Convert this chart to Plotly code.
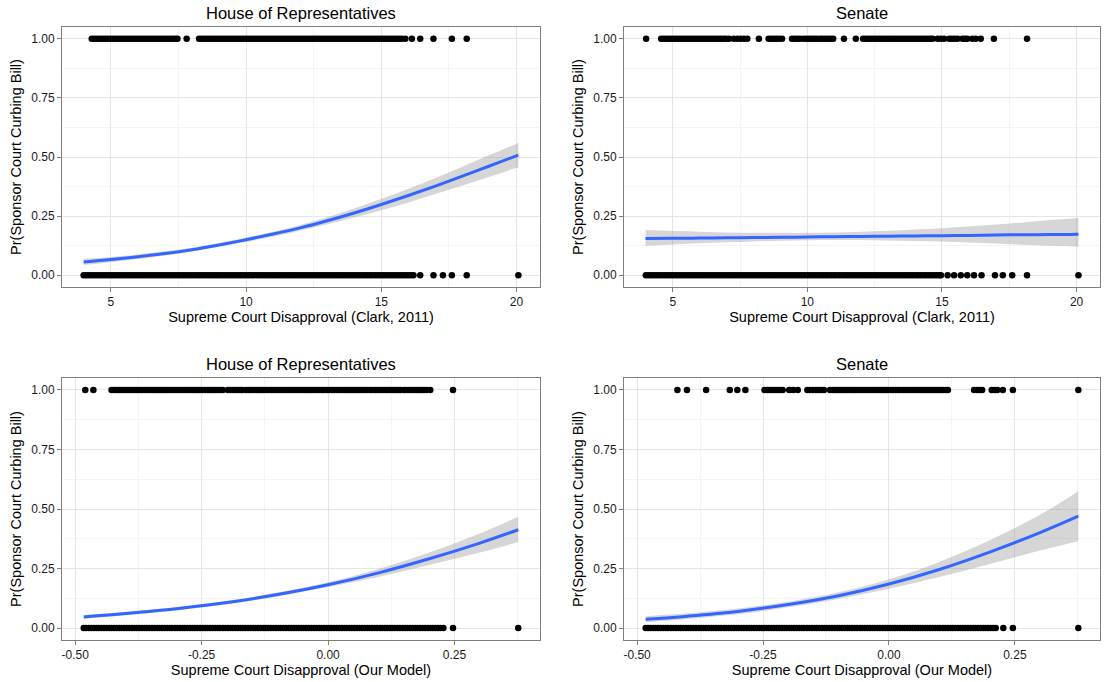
import plotly.graph_objects as go

# ---------------- data ----------------
PANEL_TITLES = ["House of Representatives", "Senate", "House of Representatives", "Senate"]
X_TITLES = ["Supreme Court Disapproval (Clark, 2011)", "Supreme Court Disapproval (Clark, 2011)",
            "Supreme Court Disapproval (Our Model)", "Supreme Court Disapproval (Our Model)"]
Y_TITLE = "Pr(Sponsor Court Curbing Bill)"

Y_TICKS = [0.0, 0.25, 0.5, 0.75, 1.0]
Y_TICK_LABELS = ["0.00", "0.25", "0.50", "0.75", "1.00"]
CLARK_TICKS = [5, 10, 15, 20]
CLARK_TICK_LABELS = ["5", "10", "15", "20"]
MODEL_TICKS = [-0.5, -0.25, 0.0, 0.25]
MODEL_TICK_LABELS = ["-0.50", "-0.25", "0.00", "0.25"]

# observed sponsors (y = 1) and non-sponsors (y = 0)
HOUSE_CLARK_YES = [
    4.29, 4.39, 4.49, 4.59, 4.69, 4.79, 4.89, 4.99, 5.09, 5.19, 5.29, 5.39, 5.49, 5.59, 5.69, 5.79,
    5.89, 5.99, 6.09, 6.19, 6.29, 6.39, 6.49, 6.59, 6.69, 6.79, 6.89, 6.99, 7.09, 7.19, 7.29, 7.39,
    7.46, 7.80,
    8.26, 8.36, 8.46, 8.56, 8.66, 8.76, 8.86, 8.96, 9.06, 9.16, 9.26, 9.36, 9.46, 9.56, 9.66, 9.76,
    9.86, 9.96, 10.06, 10.16, 10.26, 10.36, 10.46, 10.56, 10.66, 10.76, 10.86, 10.96, 11.06, 11.16,
    11.26, 11.36, 11.46, 11.56, 11.66, 11.76, 11.86, 11.96, 12.06, 12.16, 12.26, 12.36, 12.46, 12.56,
    12.66, 12.76, 12.86, 12.96, 13.06, 13.16, 13.26, 13.36, 13.46, 13.56, 13.66, 13.76, 13.86, 13.96,
    14.06, 14.16, 14.26, 14.36, 14.46, 14.56, 14.66, 14.76, 14.86, 14.96, 15.06, 15.16, 15.26, 15.36,
    15.46, 15.56, 15.66, 15.76, 15.89, 16.13, 16.44, 16.93, 17.61, 18.16]
HOUSE_CLARK_NO = [
    3.99, 4.09, 4.19, 4.29, 4.39, 4.49, 4.59, 4.69, 4.79, 4.89, 4.99, 5.09, 5.19, 5.29, 5.39, 5.49,
    5.59, 5.69, 5.79, 5.89, 5.99, 6.09, 6.19, 6.29, 6.39, 6.49, 6.59, 6.69, 6.79, 6.89, 6.99, 7.09,
    7.19, 7.29, 7.39, 7.49, 7.59, 7.69, 7.79, 7.89, 7.99, 8.09, 8.19, 8.29, 8.39, 8.49, 8.59, 8.69,
    8.79, 8.89, 8.99, 9.09, 9.19, 9.29, 9.39, 9.49, 9.59, 9.69, 9.79, 9.89, 9.99, 10.09, 10.19, 10.29,
    10.39, 10.49, 10.59, 10.69, 10.79, 10.89, 10.99, 11.09, 11.19, 11.29, 11.39, 11.49, 11.59, 11.69,
    11.79, 11.89, 11.99, 12.09, 12.19, 12.29, 12.39, 12.49, 12.59, 12.69, 12.79, 12.89, 12.99, 13.09,
    13.19, 13.29, 13.39, 13.49, 13.59, 13.69, 13.79, 13.89, 13.99, 14.09, 14.19, 14.29, 14.39, 14.49,
    14.59, 14.69, 14.79, 14.89, 14.99, 15.09, 15.19, 15.29, 15.39, 15.49, 15.59, 15.69, 15.79, 15.89,
    15.99, 16.09, 16.19, 16.44, 16.93, 17.28, 17.61, 18.16, 20.07]
SENATE_CLARK_YES = [
    4.01,
    4.57, 4.67, 4.77, 4.87, 4.97, 5.07, 5.17, 5.27, 5.37, 5.47, 5.57, 5.67, 5.77, 5.87, 5.97, 6.07,
    6.17, 6.27, 6.37, 6.47, 6.57, 6.67, 6.77, 6.87, 6.97, 7.09,
    7.27, 7.40, 7.52, 7.64, 7.77, 8.20,
    8.56, 8.66, 8.76, 8.86, 8.96, 9.06, 9.43, 9.53, 9.63, 9.73,
    9.86, 9.96, 10.06, 10.16, 10.26, 10.35, 10.47, 10.57, 10.67, 10.77, 10.87, 10.96, 11.36, 11.80,
    12.07, 12.17, 12.27, 12.37, 12.47, 12.57, 12.67, 12.77, 12.87, 12.97, 13.07, 13.17, 13.27, 13.37,
    13.47, 13.57, 13.67, 13.77, 13.87, 13.97, 14.07, 14.17, 14.27, 14.37, 14.47, 14.57, 14.65,
    14.84, 14.96, 15.08, 15.27, 15.37, 15.47, 15.58, 15.76, 15.85, 15.94, 16.13, 16.25,
    16.44, 16.93, 18.16]
SENATE_CLARK_NO = [
    4.00, 4.10, 4.20, 4.30, 4.40, 4.50, 4.60, 4.70, 4.80, 4.90, 5.00, 5.10, 5.20, 5.30, 5.40, 5.50,
    5.60, 5.70, 5.80, 5.90, 6.00, 6.10, 6.20, 6.30, 6.40, 6.50, 6.60, 6.70, 6.80, 6.90, 7.00, 7.10,
    7.20, 7.30, 7.40, 7.50, 7.60, 7.70, 7.80, 7.90, 8.00, 8.10, 8.20, 8.30, 8.40, 8.50, 8.60, 8.70,
    8.80, 8.90, 9.00, 9.10, 9.20, 9.30, 9.40, 9.50, 9.60, 9.70, 9.80, 9.90, 10.00, 10.10, 10.20, 10.30,
    10.40, 10.50, 10.60, 10.70, 10.80, 10.90, 11.00, 11.10, 11.20, 11.30, 11.40, 11.50, 11.60, 11.70,
    11.80, 11.90, 12.00, 12.10, 12.20, 12.30, 12.40, 12.50, 12.60, 12.70, 12.80, 12.90, 13.00, 13.10,
    13.20, 13.30, 13.40, 13.50, 13.60, 13.70, 13.80, 13.90, 14.00, 14.10, 14.20, 14.30, 14.40, 14.50,
    14.60, 14.70, 14.80, 14.90, 14.96, 15.21, 15.45, 15.70, 15.94, 16.19, 16.47, 16.97, 17.26, 17.61,
    18.16, 20.07]
HOUSE_MODEL_YES = [
    -0.480, -0.464,
    -0.428, -0.423, -0.418, -0.413, -0.408, -0.403, -0.398, -0.393, -0.388, -0.383, -0.378, -0.373,
    -0.368, -0.363, -0.358, -0.353, -0.348, -0.343, -0.338, -0.333, -0.328, -0.323, -0.318, -0.313,
    -0.308, -0.303, -0.298, -0.293, -0.288, -0.283, -0.278, -0.273, -0.268, -0.263, -0.258, -0.253,
    -0.248, -0.243, -0.238, -0.233, -0.228, -0.223, -0.218, -0.213, -0.208,
    -0.198, -0.193, -0.188, -0.183, -0.178, -0.173, -0.169,
    -0.162, -0.157, -0.152, -0.147, -0.142, -0.137, -0.132, -0.127, -0.122, -0.117, -0.112, -0.107,
    -0.102, -0.097, -0.092, -0.087, -0.082, -0.077, -0.072, -0.067, -0.062, -0.057, -0.052, -0.047,
    -0.042, -0.037, -0.032, -0.027, -0.022, -0.017, -0.012, -0.007, -0.002, 0.003, 0.008, 0.013,
    0.018, 0.023, 0.028, 0.033, 0.038, 0.043, 0.048, 0.053, 0.058, 0.063, 0.068, 0.073, 0.078, 0.083,
    0.088, 0.093, 0.098, 0.103, 0.108, 0.113, 0.118, 0.123, 0.128, 0.133, 0.138, 0.143,
    0.150, 0.155, 0.160, 0.165, 0.170, 0.175, 0.180, 0.185, 0.190, 0.195, 0.202, 0.247]
HOUSE_MODEL_NO = [
    -0.483, -0.478, -0.473, -0.468, -0.463, -0.458, -0.453, -0.448, -0.443, -0.438, -0.433, -0.428,
    -0.423, -0.418, -0.413, -0.408, -0.403, -0.398, -0.393, -0.388, -0.383, -0.378, -0.373, -0.368,
    -0.363, -0.358, -0.353, -0.348, -0.343, -0.338, -0.333, -0.328, -0.323, -0.318, -0.313, -0.308,
    -0.303, -0.298, -0.293, -0.288, -0.283, -0.278, -0.273, -0.268, -0.263, -0.258, -0.253, -0.248,
    -0.243, -0.238, -0.233, -0.228, -0.223, -0.218, -0.213, -0.208, -0.203, -0.198, -0.193, -0.188,
    -0.183, -0.178, -0.173, -0.168, -0.163, -0.158, -0.153, -0.148, -0.143, -0.138, -0.133, -0.128,
    -0.123, -0.118, -0.113, -0.108, -0.103, -0.098, -0.093, -0.088, -0.083, -0.078, -0.073, -0.068,
    -0.063, -0.058, -0.053, -0.048, -0.043, -0.038, -0.033, -0.028, -0.023, -0.018, -0.013, -0.008,
    -0.003, 0.002, 0.007, 0.012, 0.017, 0.022, 0.027, 0.032, 0.037, 0.042, 0.047, 0.052, 0.057, 0.062,
    0.067, 0.072, 0.077, 0.082, 0.087, 0.092, 0.097, 0.102, 0.107, 0.112, 0.117, 0.122, 0.127, 0.132,
    0.137, 0.142, 0.147, 0.152, 0.157, 0.162, 0.167, 0.172, 0.177, 0.182, 0.187, 0.192, 0.197, 0.202,
    0.207, 0.212, 0.217, 0.222, 0.228, 0.247, 0.376]
SENATE_MODEL_YES = [
    -0.420, -0.401, -0.363, -0.316, -0.301, -0.285,
    -0.247, -0.242, -0.237, -0.232, -0.227, -0.222, -0.217, -0.211,
    -0.198, -0.190, -0.181,
    -0.162, -0.157, -0.151, -0.145, -0.140, -0.135, -0.129,
    -0.117, -0.112, -0.107, -0.102, -0.097, -0.092, -0.087, -0.082, -0.077, -0.072, -0.067, -0.062,
    -0.057, -0.052, -0.047, -0.042, -0.037, -0.032, -0.027, -0.022, -0.017, -0.012, -0.007, -0.002,
    0.003, 0.008, 0.013, 0.018, 0.023, 0.028, 0.033, 0.038, 0.043, 0.048, 0.053, 0.058, 0.063, 0.068,
    0.073, 0.078, 0.083, 0.088, 0.093, 0.098, 0.103, 0.108, 0.113, 0.117,
    0.169, 0.175, 0.180, 0.185, 0.204, 0.210, 0.215, 0.226, 0.246, 0.376]
SENATE_MODEL_NO = [
    -0.483, -0.478, -0.473, -0.468, -0.463, -0.458, -0.453, -0.448, -0.443, -0.438, -0.433, -0.428,
    -0.423, -0.418, -0.413, -0.408, -0.403, -0.398, -0.393, -0.388, -0.383, -0.378, -0.373, -0.368,
    -0.363, -0.358, -0.353, -0.348, -0.343, -0.338, -0.333, -0.328, -0.323, -0.318, -0.313, -0.308,
    -0.303, -0.298, -0.293, -0.288, -0.283, -0.278, -0.273, -0.268, -0.263, -0.258, -0.253, -0.248,
    -0.243, -0.238, -0.233, -0.228, -0.223, -0.218, -0.213, -0.208, -0.203, -0.198, -0.193, -0.188,
    -0.183, -0.178, -0.173, -0.168, -0.163, -0.158, -0.153, -0.148, -0.143, -0.138, -0.133, -0.128,
    -0.123, -0.118, -0.113, -0.108, -0.103, -0.098, -0.093, -0.088, -0.083, -0.078, -0.073, -0.068,
    -0.063, -0.058, -0.053, -0.048, -0.043, -0.038, -0.033, -0.028, -0.023, -0.018, -0.013, -0.008,
    -0.003, 0.002, 0.007, 0.012, 0.017, 0.022, 0.027, 0.032, 0.037, 0.042, 0.047, 0.052, 0.057, 0.062,
    0.067, 0.072, 0.077, 0.082, 0.087, 0.092, 0.097, 0.102, 0.107, 0.112, 0.117, 0.122, 0.127, 0.132,
    0.137, 0.142, 0.147, 0.152, 0.157, 0.162, 0.167, 0.172, 0.177, 0.182, 0.187, 0.192, 0.197, 0.202,
    0.207, 0.212, 0.227, 0.246, 0.376]

# fitted logit curves and 95% bands
FIT_X_CLARK = [3.99, 5, 6, 7, 8, 9, 10, 11, 12, 13, 14, 15, 16, 17, 18, 19, 20, 20.07]
HOUSE_CLARK_FIT = [0.056, 0.066, 0.078, 0.092, 0.108, 0.128, 0.150, 0.174, 0.200, 0.230, 0.263, 0.299,
                   0.337, 0.377, 0.419, 0.462, 0.505, 0.508]
HOUSE_CLARK_LO = [0.043, 0.055, 0.068, 0.083, 0.100, 0.120, 0.141, 0.164, 0.188, 0.215, 0.244, 0.275,
                  0.308, 0.343, 0.379, 0.416, 0.454, 0.456]
HOUSE_CLARK_HI = [0.069, 0.077, 0.088, 0.101, 0.116, 0.136, 0.159, 0.184, 0.212, 0.245, 0.282, 0.323,
                  0.366, 0.411, 0.459, 0.508, 0.556, 0.560]
SENATE_CLARK_FIT = [0.155, 0.156, 0.157, 0.158, 0.159, 0.160, 0.162, 0.163, 0.164, 0.165, 0.166, 0.167,
                    0.168, 0.170, 0.171, 0.172, 0.173, 0.174]
SENATE_CLARK_LO = [0.124, 0.130, 0.135, 0.139, 0.143, 0.146, 0.148, 0.149, 0.149, 0.147, 0.145, 0.142,
                   0.138, 0.134, 0.129, 0.124, 0.120, 0.119]
SENATE_CLARK_HI = [0.191, 0.187, 0.184, 0.181, 0.180, 0.179, 0.179, 0.181, 0.184, 0.188, 0.193, 0.199,
                   0.206, 0.214, 0.223, 0.233, 0.242, 0.243]

FIT_X_MODEL = [-0.483, -0.4, -0.3, -0.2, -0.1, 0.0, 0.1, 0.2, 0.3, 0.376]
HOUSE_MODEL_FIT = [0.047, 0.061, 0.081, 0.107, 0.141, 0.182, 0.232, 0.291, 0.357, 0.413]
HOUSE_MODEL_LO = [0.039, 0.054, 0.074, 0.100, 0.133, 0.172, 0.216, 0.265, 0.317, 0.361]
HOUSE_MODEL_HI = [0.055, 0.068, 0.088, 0.114, 0.149, 0.192, 0.248, 0.317, 0.397, 0.467]
SENATE_MODEL_FIT = [0.037, 0.050, 0.070, 0.099, 0.136, 0.185, 0.246, 0.319, 0.401, 0.470]
SENATE_MODEL_LO = [0.024, 0.038, 0.058, 0.087, 0.122, 0.165, 0.214, 0.269, 0.326, 0.365]
SENATE_MODEL_HI = [0.050, 0.062, 0.082, 0.111, 0.150, 0.205, 0.278, 0.369, 0.476, 0.575]

# ---------------- figure ----------------
FONT = "Liberation Sans, Arial, Helvetica, sans-serif"
W, H = 1106, 682

panels = [
    dict(yes=HOUSE_CLARK_YES, no=HOUSE_CLARK_NO, fx=FIT_X_CLARK, fit=HOUSE_CLARK_FIT,
         lo=HOUSE_CLARK_LO, hi=HOUSE_CLARK_HI, xr=[3.19, 20.87], tv=CLARK_TICKS, tt=CLARK_TICK_LABELS,
         minor=[7.5, 12.5, 17.5], px=(62, 540), py=(27, 287)),
    dict(yes=SENATE_CLARK_YES, no=SENATE_CLARK_NO, fx=FIT_X_CLARK, fit=SENATE_CLARK_FIT,
         lo=SENATE_CLARK_LO, hi=SENATE_CLARK_HI, xr=[3.19, 20.87], tv=CLARK_TICKS, tt=CLARK_TICK_LABELS,
         minor=[7.5, 12.5, 17.5], px=(624, 1100), py=(27, 287)),
    dict(yes=HOUSE_MODEL_YES, no=HOUSE_MODEL_NO, fx=FIT_X_MODEL, fit=HOUSE_MODEL_FIT,
         lo=HOUSE_MODEL_LO, hi=HOUSE_MODEL_HI, xr=[-0.526, 0.419], tv=MODEL_TICKS, tt=MODEL_TICK_LABELS,
         minor=[-0.375, -0.125, 0.125, 0.375], px=(62, 540), py=(378, 640)),
    dict(yes=SENATE_MODEL_YES, no=SENATE_MODEL_NO, fx=FIT_X_MODEL, fit=SENATE_MODEL_FIT,
         lo=SENATE_MODEL_LO, hi=SENATE_MODEL_HI, xr=[-0.526, 0.419], tv=MODEL_TICKS, tt=MODEL_TICK_LABELS,
         minor=[-0.375, -0.125, 0.125, 0.375], px=(624, 1100), py=(378, 640)),
]

fig = go.Figure()
annotations = []
for i, p in enumerate(panels):
    n = "" if i == 0 else str(i + 1)
    xa, ya = "x" + n, "y" + n
    fig.add_trace(go.Scatter(x=p["yes"], y=[1] * len(p["yes"]), mode="markers", xaxis=xa, yaxis=ya,
                             marker=dict(color="black", size=6.5), showlegend=False, hoverinfo="x"))
    fig.add_trace(go.Scatter(x=p["no"], y=[0] * len(p["no"]), mode="markers", xaxis=xa, yaxis=ya,
                             marker=dict(color="black", size=6.5), showlegend=False, hoverinfo="x"))
    fig.add_trace(go.Scatter(x=p["fx"], y=p["lo"], mode="lines", xaxis=xa, yaxis=ya,
                             line=dict(width=0, shape="spline"), showlegend=False, hoverinfo="skip"))
    fig.add_trace(go.Scatter(x=p["fx"], y=p["hi"], mode="lines", xaxis=xa, yaxis=ya, fill="tonexty",
                             fillcolor="rgba(153,153,153,0.4)", line=dict(width=0, shape="spline"),
                             showlegend=False, hoverinfo="skip"))
    fig.add_trace(go.Scatter(x=p["fx"], y=p["fit"], mode="lines", xaxis=xa, yaxis=ya,
                             line=dict(color="#3366FF", width=3, shape="spline"), showlegend=False))

    dom_x = [p["px"][0] / W, p["px"][1] / W]
    dom_y = [1 - p["py"][1] / H, 1 - p["py"][0] / H]
    common = dict(showline=True, linecolor="#7f7f7f", linewidth=1, mirror=True,
                  ticks="outside", ticklen=4, tickcolor="#7f7f7f",
                  showgrid=True, gridcolor="#e5e5e5", gridwidth=1, zeroline=False,
                  tickfont=dict(family=FONT, size=12, color="#1a1a1a"))
    xaxis = dict(common, domain=dom_x, range=p["xr"], anchor=ya, tickvals=p["tv"], ticktext=p["tt"],
                 minor=dict(tickvals=p["minor"], showgrid=True, gridcolor="#f4f4f4", ticks=""),
                 title=dict(text=X_TITLES[i], font=dict(family=FONT, size=14.5, color="black"), standoff=2))
    yaxis = dict(common, domain=dom_y, range=[-0.05, 1.05], anchor=xa, tickvals=Y_TICKS,
                 ticktext=Y_TICK_LABELS,
                 minor=dict(tickvals=[0.125, 0.375, 0.625, 0.875], showgrid=True, gridcolor="#f4f4f4", ticks=""),
                 title=dict(text=Y_TITLE, font=dict(family=FONT, size=14.5, color="black"), standoff=6))
    fig.layout["xaxis" + n] = xaxis
    fig.layout["yaxis" + n] = yaxis
    annotations.append(dict(text=PANEL_TITLES[i], x=(dom_x[0] + dom_x[1]) / 2, y=dom_y[1],
                            xref="paper", yref="paper", xanchor="center", yanchor="bottom", yshift=3,
                            showarrow=False, font=dict(family=FONT, size=16.5, color="black")))

fig.update_layout(width=W, height=H, margin=dict(l=0, r=0, t=0, b=0),
                  paper_bgcolor="white", plot_bgcolor="white", annotations=annotations,
                  font=dict(family=FONT))
fig.write_html("out.html")
